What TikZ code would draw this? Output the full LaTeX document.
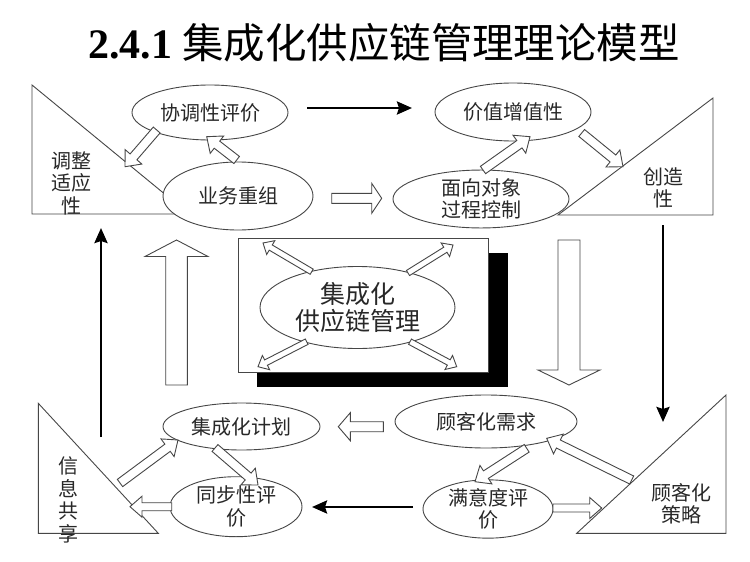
\documentclass[tikz,border=0pt]{standalone}
\usepackage{fontspec}
\setmainfont{Liberation Serif}
\newfontfamily\cjk{Noto Sans CJK SC}
\usetikzlibrary{shapes.geometric,arrows.meta,calc}
\definecolor{lc}{RGB}{70,70,70}
\definecolor{tc}{RGB}{40,40,40}
\newcommand\lbl{\cjk\fontsize{20}{22.5}\selectfont}
\newcommand\biglbl{\cjk\fontsize{25}{27}\selectfont}
\tikzset{
  oval/.style={ellipse, draw=lc, line width=0.9pt, fill=white, inner sep=0pt, align=center, font=\lbl, text=tc},
  tri/.style={draw=lc, line width=0.9pt, fill=white},
  tlabel/.style={font=\lbl, text=tc, align=center, inner sep=0pt},
  hollow/.style={draw=lc, line width=0.9pt, fill=white, line join=miter},
  blk/.style={line width=2.6pt, draw=black, -{Stealth[length=15pt,width=13pt,inset=2pt]}},
}
% #1 from, #2 to, #3 shaft half width, #4 head half width, #5 head length
\newcommand\hollowarr[5]{%
  \coordinate (hb) at ($(#2)!#5!(#1)$);
  \draw[hollow] ($(#1)!#3!90:(#2)$) -- ($(hb)!#3!90:(#2)$) -- ($(hb)!#4!90:(#2)$) -- (#2)
    -- ($(hb)!#4!-90:(#2)$) -- ($(hb)!#3!-90:(#2)$) -- ($(#1)!#3!-90:(#2)$) -- cycle;
}
\begin{document}
\begin{tikzpicture}[x=1pt,y=-1pt]
\fill[white] (0,0) rectangle (750,562);
\useasboundingbox (0,0) rectangle (750,562);

% title
\node[anchor=base, inner sep=0pt] (title) at (384,58)
  {{\bfseries\fontsize{42}{42}\selectfont 2.4.1}\hspace{10pt}{\cjk\fontsize{41.5}{41.5}\selectfont 集成化供应链管理理论模型}};

% centre box with shadow
\fill[black] (257,253) rectangle (508,387);
\draw[draw=lc, line width=0.9pt, fill=white] (238,238) rectangle (488,372);

% triangles
\draw[tri] (32,85) -- (32,214) -- (189,214) -- cycle;
\draw[tri] (558,215) -- (713,215) -- (713,98) -- cycle;
\draw[tri] (38.3,403.3) -- (38.3,533.3) -- (158.3,533.3) -- cycle;
\draw[tri] (576.7,533.3) -- (726,533.3) -- (726,395) -- cycle;

\node[tlabel] (tiaozheng) at (71,183) {调整\\适应\\性};
\node[tlabel] (chuangzao) at (663,188) {创造\\性};
\node[tlabel] (xinxi) at (68,500) {信\\息\\共\\享};
\node[tlabel] (celue) at (681.5,504) {顾客化\\策略};

% ellipses
\node[oval, minimum width=156pt, minimum height=55pt] (xtpj) at (210,112.5) {协调性评价};
\node[oval, minimum width=150pt, minimum height=68pt] (ywcz) at (238,196) {业务重组};
\node[oval, minimum width=156pt, minimum height=58pt] (jzzz) at (513,112) {价值增值性};
\node[oval, minimum width=176pt, minimum height=55pt] (mxdx) at (481,199) {面向对象\\过程控制};
\node[oval, minimum width=195pt, minimum height=82pt, font=\biglbl] (jcgl) at (357.5,307.5) {集成化\\供应链管理};
\node[oval, minimum width=182pt, minimum height=53pt] (gkxq) at (486,421.5) {顾客化需求};
\node[oval, minimum width=157pt, minimum height=47pt] (jcjh) at (241.5,426.5) {集成化计划};
\node[oval, minimum width=132pt, minimum height=60pt] (tbpj) at (236,506.7) {同步性评\\价};
\node[oval, minimum width=130pt, minimum height=58pt] (mydpj) at (488,509) {满意度评\\价};

% connector end points
\coordinate (a1s) at (156.7,130);   \coordinate (a1e) at (125,166.7);
\coordinate (a2s) at (236.7,160);   \coordinate (a2e) at (206.7,136.7);
\coordinate (a3s) at (331.7,198.3); \coordinate (a3e) at (381.7,198.3);
\coordinate (a4s) at (483,170);     \coordinate (a4e) at (530,136.7);
\coordinate (a5s) at (581.7,133);   \coordinate (a5e) at (623,166.7);
\coordinate (c1s) at (311.7,271.7); \coordinate (c1e) at (263,243);
\coordinate (c2s) at (408,273);     \coordinate (c2e) at (453,245);
\coordinate (c3s) at (306.7,341.7); \coordinate (c3e) at (258,366.7);
\coordinate (c4s) at (410,341.7);   \coordinate (c4e) at (456.7,366.7);
\coordinate (ups) at (176.5,385);   \coordinate (upe) at (176.5,240);
\coordinate (dns) at (569,240);     \coordinate (dne) at (569,385);
\coordinate (b1s) at (383.3,426.7); \coordinate (b1e) at (338.3,426.7);
\coordinate (b2s) at (120,483);     \coordinate (b2e) at (178,440);
\coordinate (b3s) at (215,448);     \coordinate (b3e) at (258,485);
\coordinate (b4s) at (171.7,506.7); \coordinate (b4e) at (130,506.7);
\coordinate (b5s) at (526.7,448.3); \coordinate (b5e) at (475,481.7);
\coordinate (b6s) at (631.7,480);   \coordinate (b6e) at (546.7,438.3);
\coordinate (b7s) at (553,508);     \coordinate (b7e) at (601.7,508);
\coordinate (k1s) at (307,108);     \coordinate (k1e) at (412,108);
\coordinate (k2s) at (101,437);     \coordinate (k2e) at (101,228);
\coordinate (k3s) at (663,225);     \coordinate (k3e) at (663,422);
\coordinate (k4s) at (413,507);     \coordinate (k4e) at (312,507);

% hollow arrows
\hollowarr{a1s}{a1e}{4.5pt}{11pt}{13pt}
\hollowarr{a2s}{a2e}{4.5pt}{11pt}{13pt}
\hollowarr{a3s}{a3e}{5pt}{15pt}{10pt}
\hollowarr{a4s}{a4e}{4.5pt}{11pt}{13pt}
\hollowarr{a5s}{a5e}{4.5pt}{11pt}{13pt}
\hollowarr{c1s}{c1e}{3pt}{8pt}{9pt}
\hollowarr{c2s}{c2e}{3pt}{8pt}{9pt}
\hollowarr{c3s}{c3e}{3pt}{8pt}{9pt}
\hollowarr{c4s}{c4e}{3pt}{8pt}{9pt}
\hollowarr{ups}{upe}{10.8pt}{31.5pt}{16.5pt}
\hollowarr{dns}{dne}{11pt}{31pt}{15pt}
\hollowarr{b1s}{b1e}{5pt}{14pt}{12pt}
\hollowarr{b2s}{b2e}{4.5pt}{11pt}{13pt}
\hollowarr{b3s}{b3e}{4.5pt}{11pt}{13pt}
\hollowarr{b4s}{b4e}{4pt}{10.5pt}{12pt}
\hollowarr{b5s}{b5e}{4.5pt}{11pt}{13pt}
\hollowarr{b6s}{b6e}{4.5pt}{11pt}{13pt}
\hollowarr{b7s}{b7e}{4pt}{10.5pt}{12pt}

% black arrows
\draw[blk] (k1s) -- (k1e);
\draw[blk] (k2s) -- (k2e);
\draw[blk] (k3s) -- (k3e);
\draw[blk] (k4s) -- (k4e);
\end{tikzpicture}
\end{document}
